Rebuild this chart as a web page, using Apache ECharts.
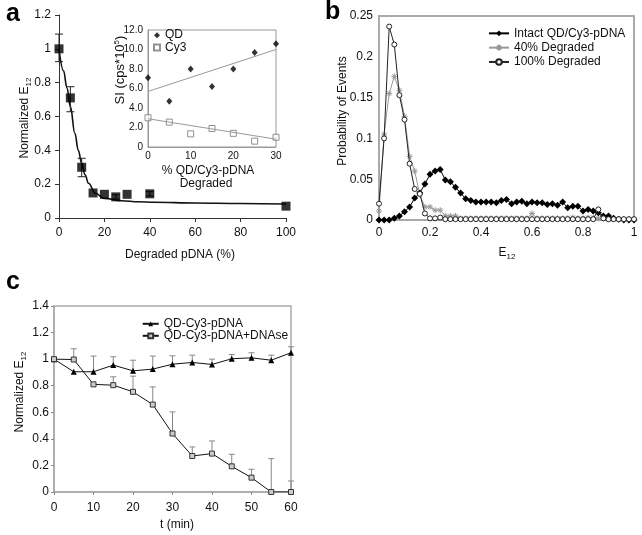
<!DOCTYPE html>
<html><head><meta charset="utf-8">
<script src="https://cdn.jsdelivr.net/npm/echarts@6/dist/echarts.min.js"></script>
<style>html,body{margin:0;padding:0;background:#fff}#c{width:642px;height:535px}</style>
</head><body><div id="c"></div>
<script>
// ---------- Panel a ----------
const aX = [0, 5, 10, 15, 20, 25, 30, 40, 100];
const aY = [1.0, 0.71, 0.30, 0.148, 0.14, 0.125, 0.14, 0.143, 0.07];
const aErrLow = [0.924, 0.628, 0.244, null, null, 0.112, null, 0.13, null];
const aErrHigh = [1.087, 0.776, 0.353, null, null, 0.138, null, 0.156, null];
const aFitX = [0, 2, 3.5, 5, 7, 8.5, 10, 11.5, 13, 16, 20, 27.5, 35, 42, 60, 80, 100];
const aFitY = [1.0, 0.87, 0.77, 0.66, 0.50, 0.40, 0.323, 0.255, 0.205, 0.146, 0.116, 0.102, 0.096, 0.093, 0.089, 0.086, 0.083];
// inset
const insetX = [0, 5, 10, 15, 20, 25, 30];
const qdY = [7.1, 4.7, 8.0, 6.2, 8.0, 9.7, 10.6];
const cy3Y = [3.0, 2.55, 1.35, 1.9, 1.4, 0.6, 1.0];
const trendX = [0, 30];
const qdTrendY = [5.7, 10.0];
const cy3TrendY = [2.9, 0.8];
// ---------- Panel b ----------
const bX = [0,0.02,0.04,0.06,0.08,0.10,0.12,0.14,0.16,0.18,0.20,0.22,0.24,0.26,0.28,0.30,0.32,0.34,0.36,0.38,0.40,0.42,0.44,0.46,0.48,0.50,0.52,0.54,0.56,0.58,0.60,0.62,0.64,0.66,0.68,0.70,0.72,0.74,0.76,0.78,0.80,0.82,0.84,0.86,0.88,0.90,0.92,0.94,0.96,0.98,1.00];
const bIntact = [0,0,0,0.002,0.005,0.010,0.016,0.027,0.033,0.044,0.056,0.060,0.062,0.049,0.047,0.040,0.033,0.026,0.024,0.022,0.022,0.022,0.022,0.021,0.024,0.025,0.020,0.022,0.023,0.020,0.022,0.021,0.021,0.019,0.020,0.018,0.022,0.015,0.017,0.017,0.011,0.013,0.011,0.009,0.005,0.005,0.002,0.001,0,0,0];
const b40 = [0.011,0.105,0.155,0.176,0.159,0.127,0.078,0.060,0.031,0.016,0.016,0.012,0.012,0.005,0.005,0.005,0.002,0.002,0.002,0.002,0.002,0.002,0.002,0.002,0.002,0.002,0.002,0.002,0.002,0.002,0.008,0.002,0.002,0.002,0.002,0.002,0.002,0.002,0.003,0.002,0.002,0.003,0.003,0.002,0.002,0.001,0.001,0.001,0.001,0.001,0.001];
const b100 = [0.020,0.100,0.237,0.215,0.153,0.123,0.069,0.038,0.032,0.008,0.002,0.002,0.003,0.001,0.001,0.001,0.001,0.001,0.001,0.001,0.001,0.001,0.001,0.001,0.001,0.001,0.001,0.001,0.001,0.001,0.001,0.001,0.001,0.001,0.001,0.001,0.001,0.001,0.001,0.001,0.001,0.001,0.001,0.013,0.002,0.001,0.001,0.001,0.001,0.001,0.001];
// ---------- Panel c ----------
const cT = [0, 5, 10, 15, 20, 25, 30, 35, 40, 45, 50, 55, 60];
const cPlain = [1.0, 0.905, 0.905, 0.955, 0.912, 0.925, 0.962, 0.975, 0.96, 1.003, 1.01, 0.992, 1.048];
const cPlainErr = [null, null, 1.023, 1.018, 0.992, 1.023, 1.025, 1.03, 1.0, 1.035, 1.048, 1.03, 1.093];
const cDnase = [1.0, 0.997, 0.81, 0.804, 0.754, 0.658, 0.44, 0.271, 0.289, 0.193, 0.108, 0, 0];
const cDnaseErr = [null, 1.078, null, 0.867, 0.872, 0.791, 0.603, 0.339, 0.384, 0.284, 0.171, 0.251, 0.083];

const FONT = "'Liberation Sans', Arial, sans-serif";
const TXT = '#111';
const zip = (xs, ys) => xs.map((x, i) => [x, ys[i]]);

function errData(xs, lows, highs) {
  const out = [];
  xs.forEach((x, i) => { if (highs[i] != null) out.push([x, lows[i], highs[i]]); });
  return out;
}
function errRender(color, capW, twoSided) {
  return function (params, api) {
    const x = api.value(0), lo = api.value(1), hi = api.value(2);
    const pLo = api.coord([x, lo]), pHi = api.coord([x, hi]);
    const st = { stroke: color, lineWidth: 1 };
    const ch = [
      { type: 'line', shape: { x1: pLo[0], y1: pLo[1], x2: pHi[0], y2: pHi[1] }, style: st },
      { type: 'line', shape: { x1: pHi[0] - capW / 2, y1: pHi[1], x2: pHi[0] + capW / 2, y2: pHi[1] }, style: st }
    ];
    if (twoSided) ch.push({ type: 'line', shape: { x1: pLo[0] - capW / 2, y1: pLo[1], x2: pLo[0] + capW / 2, y2: pLo[1] }, style: st });
    return { type: 'group', children: ch };
  };
}

const lbl = (extra) => Object.assign({ fontSize: 12, color: TXT, fontFamily: FONT }, extra || {});
const axisLineDark = { show: true, lineStyle: { color: '#333', width: 1 } };
const axisLineGray = { show: true, lineStyle: { color: '#aaa', width: 1.5 } };

const chart = echarts.init(document.getElementById('c'), null, { renderer: 'canvas' });

const option = {
  animation: false,
  backgroundColor: '#fff',
  textStyle: { fontFamily: FONT },
  grid: [
    { left: 59, top: 15, width: 227, height: 203 },
    { left: 148, top: 30, width: 128, height: 117, show: true, borderColor: '#999', borderWidth: 1, backgroundColor: '#fff' },
    { left: 379, top: 16, width: 255, height: 204, show: true, borderColor: '#aaa', borderWidth: 2 },
    { left: 54, top: 306, width: 237, height: 186, show: true, borderColor: '#aaa', borderWidth: 1.5 }
  ],
  xAxis: [
    { gridIndex: 0, type: 'value', min: 0, max: 100, interval: 20, axisLine: axisLineDark,
      axisTick: { show: true, length: 4, lineStyle: { color: '#333' } }, splitLine: { show: false }, axisLabel: lbl({ margin: 9 }) },
    { gridIndex: 1, type: 'value', min: 0, max: 30, interval: 10, axisLine: { show: true, lineStyle: { color: '#999' } },
      axisTick: { show: false }, splitLine: { show: false }, axisLabel: lbl({ margin: 4, fontSize: 10 }) },
    { gridIndex: 2, type: 'value', min: 0, max: 1, interval: 0.2, axisLine: { show: true, lineStyle: { color: '#aaa', width: 2 } },
      axisTick: { show: false }, splitLine: { show: false }, axisLabel: lbl({ margin: 7 }) },
    { gridIndex: 3, type: 'value', min: 0, max: 60, interval: 10, axisLine: axisLineGray,
      axisTick: { show: true, length: 3, lineStyle: { color: '#888' } }, splitLine: { show: false }, axisLabel: lbl({ margin: 10 }) }
  ],
  yAxis: [
    { gridIndex: 0, type: 'value', min: 0, max: 1.2, interval: 0.2, axisLine: axisLineDark,
      axisTick: { show: true, length: 4, lineStyle: { color: '#333' } }, splitLine: { show: false }, axisLabel: lbl({ margin: 8 }) },
    { gridIndex: 1, type: 'value', min: 0, max: 12, interval: 2, axisLine: { show: true, lineStyle: { color: '#999' } },
      axisTick: { show: false }, splitLine: { show: false },
      axisLabel: lbl({ margin: 5, fontSize: 10, formatter: v => v === 0 ? '0' : v.toFixed(1) }) },
    { gridIndex: 2, type: 'value', min: 0, max: 0.25, interval: 0.05, axisLine: { show: true, lineStyle: { color: '#aaa', width: 2 } },
      axisTick: { show: false }, splitLine: { show: false }, axisLabel: lbl({ margin: 6 }) },
    { gridIndex: 3, type: 'value', min: 0, max: 1.4, interval: 0.2, axisLine: axisLineGray,
      axisTick: { show: true, length: 3, lineStyle: { color: '#888' } }, splitLine: { show: false }, axisLabel: lbl({ margin: 5 }) }
  ],
  legend: [
    { left: 488, top: 26.2, padding: 0, orient: 'vertical', itemWidth: 20, itemHeight: 7, itemGap: 0, itemTextGap: 4,
      textStyle: lbl({ lineHeight: 14.3 }), data: ['Intact QD/Cy3-pDNA', '40% Degraded', '100% Degraded'] },
    { left: 153, top: 29, padding: 0, orient: 'vertical', itemWidth: 6, itemHeight: 6, itemGap: 0, itemTextGap: 3,
      textStyle: lbl({ lineHeight: 12.3 }), data: ['QD', 'Cy3'] },
    { left: 141.7, top: 317.8, padding: 0, orient: 'vertical', itemWidth: 16, itemHeight: 6, itemGap: 0, itemTextGap: 2,
      textStyle: lbl({ lineHeight: 11 }), data: ['QD-Cy3-pDNA', 'QD-Cy3-pDNA+DNAse'] }
  ],
  series: [
    // panel a
    { type: 'line', xAxisIndex: 0, yAxisIndex: 0, data: zip(aFitX, aFitY), smooth: 0.4, smoothMonotone: 'x',
      showSymbol: false, lineStyle: { color: '#111', width: 1.6 }, z: 2 },
    { type: 'custom', xAxisIndex: 0, yAxisIndex: 0, data: errData(aX, aErrLow, aErrHigh),
      renderItem: errRender('#222', 8, true), z: 3 },
    { type: 'scatter', xAxisIndex: 0, yAxisIndex: 0, data: zip(aX, aY), symbol: 'rect', symbolSize: 9,
      itemStyle: { color: '#000' }, z: 4 },
    // inset
    { type: 'line', xAxisIndex: 1, yAxisIndex: 1, data: zip(trendX, qdTrendY), showSymbol: false,
      lineStyle: { color: '#999', width: 1 } },
    { type: 'line', xAxisIndex: 1, yAxisIndex: 1, data: zip(trendX, cy3TrendY), showSymbol: false,
      lineStyle: { color: '#999', width: 1 } },
    { name: 'QD', type: 'scatter', xAxisIndex: 1, yAxisIndex: 1, data: zip(insetX, qdY), symbol: 'diamond', symbolSize: [6, 7],
      itemStyle: { color: '#000' } },
    { name: 'Cy3', type: 'scatter', xAxisIndex: 1, yAxisIndex: 1, data: zip(insetX, cy3Y), symbol: 'rect', symbolSize: 6,
      itemStyle: { color: '#fff', borderColor: '#777', borderWidth: 1 } },
    // panel b
    { name: 'Intact QD/Cy3-pDNA', type: 'line', xAxisIndex: 2, yAxisIndex: 2, data: zip(bX, bIntact), symbol: 'diamond', symbolSize: 7,
      showAllSymbol: true, itemStyle: { color: '#000' }, lineStyle: { color: '#000', width: 1 }, z: 3 },
    { name: '40% Degraded', type: 'line', xAxisIndex: 2, yAxisIndex: 2, data: zip(bX, b40),
      symbol: 'path://M5,0L5,10M0,5L10,5M1.5,1.5L8.5,8.5M8.5,1.5L1.5,8.5', symbolSize: 6,
      showAllSymbol: true, itemStyle: { color: '#999', borderColor: '#999', borderWidth: 1 }, lineStyle: { color: '#999', width: 1 }, z: 2 },
    { name: '100% Degraded', type: 'line', xAxisIndex: 2, yAxisIndex: 2, data: zip(bX, b100), symbol: 'circle', symbolSize: 5,
      showAllSymbol: true, itemStyle: { color: '#fff', borderColor: '#222', borderWidth: 1 }, lineStyle: { color: '#222', width: 1 }, z: 4 },
    // panel c
    { type: 'custom', xAxisIndex: 3, yAxisIndex: 3, data: errData(cT, cPlain, cPlainErr), renderItem: errRender('#888', 6, false), z: 1 },
    { type: 'custom', xAxisIndex: 3, yAxisIndex: 3, data: errData(cT, cDnase, cDnaseErr), renderItem: errRender('#888', 6, false), z: 1 },
    { name: 'QD-Cy3-pDNA', type: 'line', xAxisIndex: 3, yAxisIndex: 3, data: zip(cT, cPlain), symbol: 'triangle', symbolSize: 6,
      itemStyle: { color: '#000' }, lineStyle: { color: '#111', width: 1 }, z: 3 },
    { name: 'QD-Cy3-pDNA+DNAse', type: 'line', xAxisIndex: 3, yAxisIndex: 3, data: zip(cT, cDnase), symbol: 'rect', symbolSize: 5,
      itemStyle: { color: '#ccc', borderColor: '#333', borderWidth: 1 }, lineStyle: { color: '#111', width: 1 }, z: 3 }
  ],
  graphic: [
    { type: 'text', left: 6, top: 2, style: { text: 'a', font: 'bold 25px ' + FONT, fill: '#000' } },
    { type: 'text', left: 325, top: 0, style: { text: 'b', font: 'bold 25px ' + FONT, fill: '#000' } },
    { type: 'text', left: 6, top: 270, style: { text: 'c', font: 'bold 25px ' + FONT, fill: '#000' } },
    // a titles
    { type: 'text', x: 25, y: 118, rotation: Math.PI / 2,
      style: { text: 'Normalized E{s|12}', font: '12px ' + FONT, fill: TXT, align: 'center', verticalAlign: 'middle',
        rich: { s: { fontSize: 8, fontFamily: FONT, fill: TXT, verticalAlign: 'bottom', lineHeight: 8 } }, lineHeight: 15 } },
    { type: 'text', x: 180, y: 255, style: { text: 'Degraded pDNA (%)', font: '12px ' + FONT, fill: TXT, align: 'center', verticalAlign: 'middle' } },
    { type: 'text', x: 120, y: 70, rotation: Math.PI / 2,
      style: { text: 'SI (cps*10{p|5})', font: '13px ' + FONT, fill: TXT, align: 'center', verticalAlign: 'middle',
        rich: { p: { fontSize: 8, fontFamily: FONT, fill: TXT, verticalAlign: 'top', lineHeight: 8 } }, lineHeight: 15 } },
    { type: 'text', x: 208, y: 171, style: { text: '% QD/Cy3-pDNA', font: '12px ' + FONT, fill: TXT, align: 'center', verticalAlign: 'middle' } },
    { type: 'text', x: 206, y: 184, style: { text: 'Degraded', font: '12px ' + FONT, fill: TXT, align: 'center', verticalAlign: 'middle' } },
    // b titles
    { type: 'text', x: 343, y: 111, rotation: Math.PI / 2,
      style: { text: 'Probability of Events', font: '12px ' + FONT, fill: TXT, align: 'center', verticalAlign: 'middle' } },
    { type: 'text', x: 507, y: 253,
      style: { text: 'E{s|12}', font: '12px ' + FONT, fill: TXT, align: 'center', verticalAlign: 'middle',
        rich: { s: { fontSize: 8, fontFamily: FONT, fill: TXT, verticalAlign: 'bottom', lineHeight: 8 } }, lineHeight: 15 } },
    // c titles
    { type: 'text', x: 20, y: 392, rotation: Math.PI / 2,
      style: { text: 'Normalized E{s|12}', font: '12px ' + FONT, fill: TXT, align: 'center', verticalAlign: 'middle',
        rich: { s: { fontSize: 8, fontFamily: FONT, fill: TXT, verticalAlign: 'bottom', lineHeight: 8 } }, lineHeight: 15 } },
    { type: 'text', x: 177, y: 525, style: { text: 't (min)', font: '12px ' + FONT, fill: TXT, align: 'center', verticalAlign: 'middle' } }
  ]
};
chart.setOption(option);
</script>
</body></html>
